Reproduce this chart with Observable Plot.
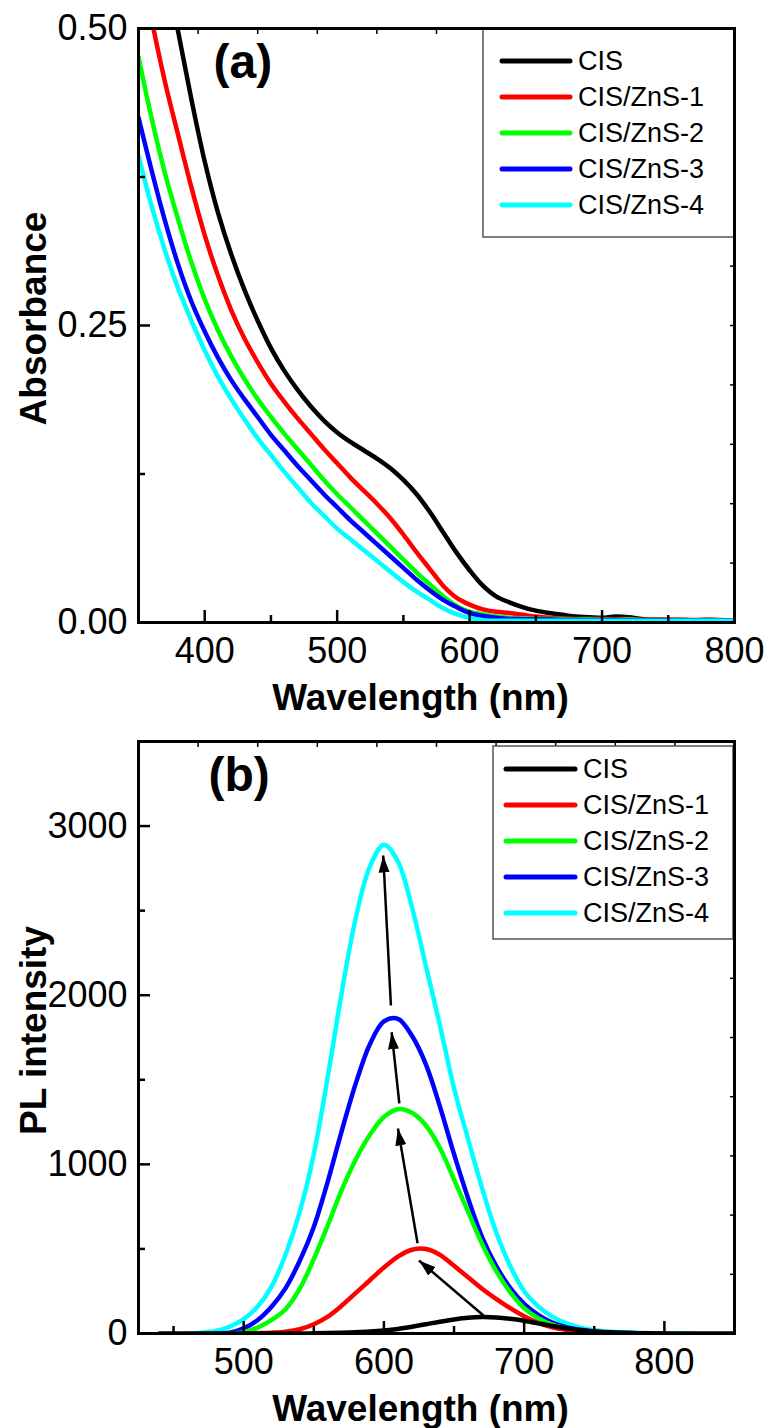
<!DOCTYPE html>
<html>
<head>
<meta charset="utf-8">
<script src="https://cdn.jsdelivr.net/npm/d3@7"></script>
<script src="https://cdn.jsdelivr.net/npm/@observablehq/plot@0.6"></script>
<style>
html, body { margin: 0; padding: 0; background: #fff; }
#chart svg { display: block; }
</style>
</head>
<body>
<div id="chart"></div>
<script>
// ---------- shared ----------
const seriesNames = ["CIS", "CIS/ZnS-1", "CIS/ZnS-2", "CIS/ZnS-3", "CIS/ZnS-4"];
const seriesColors = ["#000000", "#ff0000", "#00ff00", "#0000ff", "#00ffff"];

// ---------- panel (a): absorbance ----------
const absWavelength = [350,360,370,380,390,400,410,420,430,440,450,460,470,480,490,500,510,520,530,540,550,560,570,580,590,600,610,620,630,640,650,660,670,680,690,700,710,720,730,740,750,760,770,780,790,800];
const absCIS   = [0.69,0.62,0.556,0.497,0.440,0.388,0.345,0.310,0.280,0.254,0.231,0.212,0.196,0.182,0.170,0.160,0.152,0.145,0.138,0.130,0.120,0.108,0.093,0.076,0.059,0.044,0.031,0.022,0.017,0.013,0.010,0.008,0.0065,0.005,0.0045,0.004,0.005,0.0045,0.003,0.002,0.0015,0.0015,0.0015,0.0015,0.0015,0.0015];
const absZnS1  = [0.565,0.507,0.455,0.410,0.366,0.326,0.292,0.263,0.239,0.219,0.201,0.186,0.172,0.159,0.146,0.134,0.122,0.111,0.100,0.088,0.074,0.059,0.045,0.031,0.021,0.015,0.011,0.009,0.008,0.0065,0.005,0.004,0.0035,0.003,0.0032,0.003,0.0028,0.003,0.0025,0.0028,0.0025,0.0025,0.0022,0.0025,0.002,0.002];
const absZnS2  = [0.476,0.424,0.378,0.339,0.303,0.272,0.246,0.224,0.205,0.188,0.173,0.159,0.146,0.133,0.120,0.108,0.097,0.086,0.075,0.064,0.053,0.042,0.032,0.022,0.014,0.009,0.007,0.005,0.004,0.0035,0.003,0.003,0.0028,0.0025,0.0028,0.0025,0.0022,0.0025,0.002,0.0022,0.002,0.002,0.0018,0.002,0.0018,0.0018];
const absZnS3  = [0.425,0.380,0.338,0.301,0.270,0.245,0.223,0.204,0.188,0.173,0.158,0.145,0.132,0.120,0.108,0.097,0.086,0.076,0.066,0.056,0.046,0.036,0.027,0.019,0.013,0.008,0.0055,0.004,0.003,0.0028,0.0025,0.0025,0.0022,0.002,0.0022,0.002,0.002,0.0018,0.002,0.0018,0.0018,0.0016,0.0018,0.0016,0.0016,0.0016];
const absZnS4  = [0.393,0.350,0.313,0.281,0.254,0.229,0.207,0.188,0.171,0.155,0.141,0.127,0.114,0.101,0.090,0.079,0.070,0.061,0.052,0.043,0.034,0.026,0.019,0.012,0.007,0.004,0.002,0.0015,0.0015,0.0015,0.0015,0.0015,0.0015,0.0015,0.0015,0.0015,0.0015,0.0015,0.0015,0.0015,0.0015,0.0015,0.0015,0.0015,0.0015,0.0015];
const absXTicks = [400, 500, 600, 700, 800];
const absXMinor = [450, 550, 650, 750];
const absYTicks = [0, 0.25, 0.5];
const absYMinor = [0.125, 0.375];
const absTopTicks = [395, 440, 485, 530, 575, 620, 665, 710, 755];
const absRightTicks = [0.05, 0.1, 0.15, 0.2, 0.25, 0.3, 0.35, 0.4, 0.45];
const absXTitle = "Wavelength (nm)";
const absYTitle = "Absorbance";
const absPanel = "(a)";

// ---------- panel (b): PL ----------
const plWavelength = [440,450,460,470,480,490,500,510,520,530,540,550,560,570,580,590,600,610,620,630,640,650,660,670,680,690,700,710,720,730,740,750,760,770,780,790,800,810,820,830,840,850];
const plCIS  = [0,0,0,0,0,0,0,0,0,0,0,1,3,5,8,12,18,27,40,55,70,83,93,97,95,87,75,60,45,31,20,12,7,4,2,1,0,0,0,0,0,0];
const plZnS1 = [null,null,null,null,null,null,0,2,5,11,25,55,100,165,240,315,390,455,495,500,465,400,333,265,205,150,102,62,36,21,11,5,2,1,0,0,0,null,null,null,null,null];
const plZnS2 = [null,null,null,null,null,0,8,35,80,145,265,440,640,850,1030,1175,1280,1326,1305,1230,1095,910,720,530,370,245,150,90,52,30,15,7,3,1,0,0,0,null,null,null,null,null];
const plZnS3 = [null,null,null,null,0,5,30,80,160,270,430,630,900,1200,1480,1710,1845,1860,1760,1590,1340,1060,800,570,400,270,175,110,65,38,22,12,6,3,2,1,0,null,null,null,null,null];
const plZnS4 = [null,null,0,5,15,40,85,160,280,470,720,1060,1520,2020,2460,2760,2890,2790,2520,2170,1820,1450,1150,860,600,400,250,160,100,60,35,20,12,7,4,2,1,0,0,null,null,null];
const plXTicks = [500, 600, 700, 800];
const plXMinor = [450, 550, 650, 750];
const plYTicks = [0, 1000, 2000, 3000];
const plYMinor = [500, 1500, 2500];
const plTopTicks = [467.5, 510, 552.5, 595, 637.5, 680, 722.5, 765, 807.5];
const plRightTicks = [350, 700, 1050, 1400, 1750, 2100, 2450, 2800, 3150];
const plXTitle = "Wavelength (nm)";
const plYTitle = "PL intensity";
const plPanel = "(b)";

// arrows (wavelength, intensity) start -> end
const arrowX1 = [671, 624, 611, 605];
const arrowY1 = [106, 534, 1360, 1939];
const arrowX2 = [625, 610, 605.5, 599.5];
const arrowY2 = [432, 1212, 1781, 2826];

// ---------- helpers ----------
const FONT = "'Liberation Sans', Arial, Helvetica, sans-serif";
const noText = () => "";

function tidy(wl, arrays, order) {
  const rows = [];
  for (const k of order) {
    arrays[k].forEach((v, i) => rows.push({series: seriesNames[k], wl: wl[i], v}));
  }
  return rows;
}

function axesMarks(o) {
  return [
    Plot.axisX({ticks: o.xTicks, tickSize: 0, tickPadding: 15, fontSize: 36, tickFormat: d3.format("d"), label: null}),
    Plot.axisX({ticks: o.xTicks, tickSize: -12, strokeWidth: 2.5, tickFormat: noText, label: null}),
    Plot.axisX({ticks: o.xMinor, tickSize: -7, strokeWidth: 2.5, tickFormat: noText, label: null}),
    Plot.axisX({anchor: "top", ticks: o.topTicks, tickSize: -5, strokeWidth: 1.5, tickFormat: noText, label: null}),
    Plot.axisY({ticks: o.yTicks, tickSize: 0, tickPadding: 11, fontSize: 36, tickFormat: o.yFormat, label: null}),
    Plot.axisY({ticks: o.yTicks, tickSize: -12, strokeWidth: 2.5, tickFormat: noText, label: null}),
    Plot.axisY({ticks: o.yMinor, tickSize: -7, strokeWidth: 2.5, tickFormat: noText, label: null}),
    Plot.axisY({anchor: "right", ticks: o.rightTicks, tickSize: -5, strokeWidth: 1.5, tickFormat: noText, label: null}),
    Plot.text([o.xTitle], {text: d => d, frameAnchor: "bottom", dx: -16, dy: 87, textAnchor: "middle", lineAnchor: "bottom", fontSize: 37, fontWeight: "bold"}),
    Plot.text([o.yTitle], {text: d => d, frameAnchor: "left", dx: -93, dy: -7, rotate: -90, textAnchor: "middle", lineAnchor: "bottom", fontSize: 37, fontWeight: "bold"}),
    Plot.text([o.panel], {text: d => d, frameAnchor: "top-left", dx: o.panelDx, dy: 49, textAnchor: "start", lineAnchor: "bottom", fontSize: 48, fontWeight: "bold"})
  ];
}

function addLegend(svg, L) {
  const g = d3.select(svg).append("g").attr("font-family", FONT).attr("text-anchor", "start");
  g.append("rect")
    .attr("x", L.x).attr("y", L.y).attr("width", L.w).attr("height", L.h)
    .attr("fill", "#fff").attr("stroke", "#555").attr("stroke-width", 1.5);
  seriesNames.forEach((name, i) => {
    const cy = L.row0 + i * L.step;
    g.append("line")
      .attr("x1", L.lx1).attr("x2", L.lx2).attr("y1", cy).attr("y2", cy)
      .attr("stroke", seriesColors[i]).attr("stroke-width", 5).attr("stroke-linecap", "round");
    g.append("text")
      .attr("x", L.tx).attr("y", cy).attr("dy", "0.35em")
      .attr("text-anchor", "start")
      .attr("font-size", 27).attr("fill", "#000").text(name);
  });
  d3.select(svg).selectAll('[aria-label="frame"]').raise();
}

// ---------- panel (a) ----------
const absArrays = [absCIS, absZnS1, absZnS2, absZnS3, absZnS4];
const rowsA = tidy(absWavelength, absArrays, [0, 1, 2, 3, 4]);

const svgA = Plot.plot({
  width: 769, height: 730,
  marginTop: 28, marginRight: 35, marginBottom: 108, marginLeft: 138,
  style: {fontFamily: FONT, background: "#fff", color: "#000"},
  x: {domain: [350, 800]},
  y: {domain: [0, 0.5]},
  color: {domain: seriesNames, range: seriesColors},
  marks: [
    Plot.line(rowsA, {x: "wl", y: "v", z: "series", stroke: "series", strokeWidth: 4.5, curve: "catmull-rom", clip: true}),
    ...axesMarks({
      xTicks: absXTicks, xMinor: absXMinor, topTicks: absTopTicks,
      yTicks: absYTicks, yMinor: absYMinor, rightTicks: absRightTicks,
      yFormat: d3.format(".2f"), xTitle: absXTitle, yTitle: absYTitle,
      panel: absPanel, panelDx: 75
    }),
    Plot.frame({strokeWidth: 3})
  ]
});
addLegend(svgA, {x: 483, y: 28, w: 251, h: 209, row0: 61, step: 36, lx1: 502, lx2: 570, tx: 578});

// ---------- panel (b) ----------
const plArrays = [plCIS, plZnS1, plZnS2, plZnS3, plZnS4];
const rowsB = tidy(plWavelength, plArrays, [4, 3, 2, 1, 0]);
const arrows = arrowX1.map((x1, i) => ({x1, y1: arrowY1[i], x2: arrowX2[i], y2: arrowY2[i]}));

const svgB = Plot.plot({
  width: 769, height: 698,
  marginTop: 11, marginRight: 35, marginBottom: 95, marginLeft: 138,
  style: {fontFamily: FONT, background: "#fff", color: "#000"},
  x: {domain: [425, 850]},
  y: {domain: [0, 3500]},
  color: {domain: seriesNames, range: seriesColors},
  marks: [
    Plot.line(rowsB, {x: "wl", y: "v", z: "series", stroke: "series", strokeWidth: 4.5, curve: "catmull-rom", clip: true}),
    Plot.link(arrows, {x1: "x1", y1: "y1", x2: "x2", y2: "y2", stroke: "#000", strokeWidth: 2.5}),
    ...axesMarks({
      xTicks: plXTicks, xMinor: plXMinor, topTicks: plTopTicks,
      yTicks: plYTicks, yMinor: plYMinor, rightTicks: plRightTicks,
      yFormat: d3.format("d"), xTitle: plXTitle, yTitle: plYTitle,
      panel: plPanel, panelDx: 70
    }),
    Plot.frame({strokeWidth: 3})
  ]
});
addLegend(svgB, {x: 493, y: 16, w: 240, h: 193, row0: 39, step: 36, lx1: 506, lx2: 575, tx: 583});

// filled arrow heads
const defs = d3.select(svgB).insert("defs", ":first-child");
defs.append("marker")
  .attr("id", "arrowHeadB")
  .attr("viewBox", "-17 -6 17 12")
  .attr("refX", 0).attr("refY", 0)
  .attr("markerWidth", 17).attr("markerHeight", 12)
  .attr("markerUnits", "userSpaceOnUse")
  .attr("orient", "auto")
  .append("path").attr("d", "M0,0L-17,-5.5L-17,5.5Z").attr("fill", "#000");
d3.select(svgB).selectAll('g[aria-label="link"] path').attr("marker-end", "url(#arrowHeadB)");

document.getElementById("chart").append(svgA, svgB);
</script>
</body>
</html>
